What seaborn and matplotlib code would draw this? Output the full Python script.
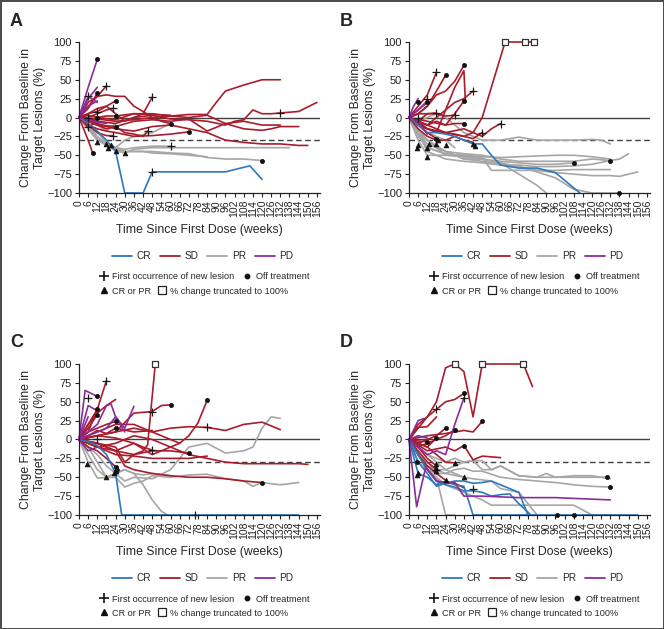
import matplotlib
matplotlib.use("Agg")
import matplotlib.pyplot as plt
from matplotlib.lines import Line2D
import seaborn as sns
import pandas as pd

# colours per best overall response
palette = {"CR": "#2f78bd", "SD": "#a81c2c", "PR": "#a6a6a6", "PD": "#8a2d9c"}
drawOrder = ["PR", "SD", "CR", "PD"]

# ---------------- panel A ----------------
A_CR = [([0, 6, 12, 18, 24, 30, 42, 48, 96, 112, 120], [0, -8, -18, -30, -45, -100, -100, -72, -72, -64, -82])]
A_SD = [
    ([0, 6, 12, 18, 24, 30, 36, 42, 48, 54, 60], [0, 20, 28, 30, 28, 28, 15, 8, 0, -5, -8]),
    ([0, 6, 12, 18, 24, 30, 36, 42, 48], [0, 5, 8, 15, 5, -5, 0, 5, 27]),
    ([0, 6, 12, 18], [0, 15, 28, 42]),
    ([0, 6, 12], [0, 12, 32]),
    ([0, 3, 6, 9], [0, -15, -30, -47]),
    ([0, 6, 12, 18, 24], [0, 5, 12, 15, 22]),
    ([0, 6, 12, 18, 22], [0, 0, 5, 10, 12]),
    ([0, 6, 12, 18, 24, 36, 48, 60, 72, 84, 96, 108, 120, 132], [0, -5, 0, 2, 2, 5, 5, 2, 0, 3, -8, -5, -10, -10]),
    ([0, 12, 24, 36, 48, 60, 66, 72, 84, 90, 96, 108, 120, 132], [0, -2, -5, -3, 0, 2, 3, 4, 4, 20, 35, 43, 50, 50]),
    ([0, 12, 24, 36, 48, 60, 72, 84, 96, 102, 108, 114, 120, 126, 132, 144, 156],
     [0, -5, -8, 0, 3, -2, -3, -5, -10, -5, -3, 10, 5, 5, 6, 8, 20]),
    ([0, 12, 24, 36, 48, 60, 72, 84, 96, 108, 120, 126, 132, 144], [0, -10, -12, -5, -3, -5, -2, -18, -8, -15, -17, -15, -12, -12]),
    ([0, 12, 24, 36, 48, 60, 72, 84, 96, 108, 120, 132, 144, 150], [0, -8, -15, -18, -12, -10, -15, -20, -30, -33, -35, -35, -37, -37]),
    ([0, 6, 12, 18, 24, 36, 48, 60, 72], [0, -10, -15, -18, -20, -25, -24, -22, -19]),
    ([0, 6, 12, 18, 24, 30, 36, 42, 45], [0, -5, -10, -12, -12, -20, -22, -25, -18]),
    ([0, 6, 12, 18, 24], [0, -5, -10, -15, -12]),
    ([0, 6, 12, 18, 22], [0, -10, -20, -24, -24]),
    ([0, 6, 12], [0, -13, -5]),
    ([0, 6, 12, 24, 36, 48, 60], [0, 3, 0, -3, 5, 4, 3]),
]
A_PR = [
    ([0, 6, 12, 18, 24, 30, 36, 48, 60, 72, 84, 96, 108, 120], [0, -15, -30, -35, -40, -45, -45, -45, -47, -48, -53, -55, -55, -57]),
    ([0, 6, 12, 18, 24, 30, 36, 48, 60, 72, 84, 96, 108, 120, 138], [0, -15, -30, -37, -44, -47, -42, -40, -40, -40, -40, -40, -40, -40, -40]),
    ([0, 6, 12, 18, 24, 30, 36, 48, 60], [0, -10, -20, -33, -40, -30, -25, -20, -8]),
    ([0, 6, 12, 18, 24, 30, 36, 48, 60], [0, -10, -25, -35, -40, -42, -40, -38, -38]),
    ([0, 6, 12, 18, 24, 30, 36, 42, 48, 60, 72, 84], [0, -12, -28, -35, -42, -45, -45, -45, -47, -48, -50, -52]),
    ([0, 6, 12, 18, 24], [0, -5, -10, -18, -8]),
]
A_PD = [
    ([0, 6, 12], [0, 40, 77]),
    ([0, 6, 12], [0, 25, 40]),
    ([0, 6, 12], [0, 28, 20]),
    ([0, 6, 12], [0, 15, 22]),
    ([0, 9, 18], [0, -5, -8]),
]
A_newLesion = [(6, 28), (18, 42), (48, 27), (22, 12), (12, 7), (6, -13), (45, -18), (60, -38), (48, -72), (132, 6), (22, -24), (6, 0)]
A_offTreatment = [(12, 77), (12, 32), (24, 22), (24, 2), (9, -47), (24, -12), (60, -8), (72, -19), (120, -57), (12, 0)]
A_crpr = [(12, -33), (18, -35), (19, -40), (21, -36), (24, -44), (30, -47)]
A_truncated = []

# ---------------- panel B ----------------
B_CR = [([0, 6, 12, 18, 24, 30, 36, 42, 48, 54, 60, 72, 84, 96, 112],
         [0, -10, -20, -20, -22, -25, -30, -35, -35, -50, -63, -67, -67, -73, -100])]
B_SD = [
    ([0, 6, 12, 18, 24, 30, 36, 42, 48, 54, 63, 70, 76, 82], [0, -10, -15, -18, -20, -22, -25, -20, 0, 40, 100, 100, 100, 100]),
    ([0, 6, 12, 18], [0, 15, 30, 60]),
    ([0, 6, 12, 18, 24], [0, 5, 15, 35, 56]),
    ([0, 6, 12, 18, 24, 30, 36], [0, 5, 15, 30, 35, 48, 69]),
    ([0, 6, 12, 18, 24, 30, 36, 37], [0, -5, -15, -20, 10, 40, 62, 20]),
    ([0, 6, 12, 18, 24, 30, 36, 42], [0, -5, -10, 0, 10, 20, 25, 35]),
    ([0, 12, 24, 30, 36], [0, -5, -10, 5, 22]),
    ([0, 12, 24, 36, 42, 48, 54, 60], [0, -10, -20, -15, -20, -25, -15, -8]),
    ([0, 6, 12, 18, 24, 30, 36], [0, -5, -10, -5, -10, -8, -8]),
    ([0, 12, 24, 36, 42, 48], [0, -15, -20, -25, -28, -20]),
    ([0, 6, 12, 18, 24, 30], [0, 5, 5, 5, 2, 3]),
    ([0, 6, 12, 18], [0, -10, -20, -28]),
    ([0, 6, 12, 18, 24, 30, 36, 42], [0, -15, -25, -30, -30, -25, -30, -33]),
    ([0, 6, 12, 18], [0, -5, 5, 6]),
    ([0, 6, 12], [0, 10, 20]),
]
B_PR = [
    ([0, 6, 12, 18, 24, 30, 36, 48, 60, 72, 84, 90], [0, -20, -35, -40, -45, -50, -55, -55, -60, -75, -90, -100]),
    ([0, 6, 12, 24, 36, 48, 60, 72, 84, 96, 108, 120, 132, 138, 144], [0, -20, -30, -45, -48, -50, -55, -58, -58, -58, -58, -55, -57, -55, -48]),
    ([0, 12, 24, 36, 48, 54, 60, 72, 84, 96, 108, 120, 132], [0, -40, -48, -50, -53, -70, -70, -70, -70, -70, -69, -69, -69]),
    ([0, 6, 12, 24, 36, 48, 60, 72, 84, 96, 108], [0, -30, -50, -50, -52, -55, -58, -60, -62, -62, -60]),
    ([0, 6, 12, 24, 36, 48, 60, 72, 84, 96, 108, 120, 132], [0, -20, -45, -55, -58, -60, -63, -63, -65, -65, -64, -62, -57]),
    ([0, 6, 12, 18, 24, 36, 48, 60, 72, 84, 96, 108, 120, 126, 132],
     [0, -5, 0, 5, 0, -20, -30, -30, -26, -30, -30, -30, -29, -30, -35]),
    ([0, 6, 12, 24, 36, 48, 60, 72, 84, 96, 108, 120, 132, 138, 144, 150],
     [0, -25, -40, -48, -52, -55, -60, -65, -70, -73, -75, -77, -77, -78, -75, -72]),
    ([0, 12, 24, 36, 48, 60, 72, 84, 96, 108, 120, 132, 138], [0, -30, -45, -55, -58, -62, -65, -72, -80, -95, -100, -100, -100]),
    ([0, 6, 12, 24, 36, 48, 60, 72, 84, 96, 108, 120, 132], [0, -20, -30, -50, -50, -52, -53, -52, -51, -50, -50, -52, -55]),
    ([0, 6, 12, 18, 24, 30], [0, -10, -20, -25, -30, -40]),
]
B_PD = [
    ([0, 3, 6], [0, 15, 25]),
    ([0, 6, 12], [0, 10, 22]),
    ([0, 6, 12], [0, -5, -22]),
]
B_newLesion = [(18, 60), (42, 35), (60, -8), (48, -20), (12, 25), (18, 6), (30, 3), (6, 0)]
B_offTreatment = [(6, 21), (12, 20), (24, 56), (36, 69), (36, 22), (36, -8), (108, -60), (132, -57), (138, -100), (18, -28)]
B_crpr = [(5, -40), (6, -37), (12, -52), (12, -40), (13, -35), (18, -35), (19, -30), (24, -37), (42, -35), (43, -38)]
B_truncated = [(63, 100), (76, 100), (82, 100)]

# ---------------- panel C ----------------
C_CR = [([0, 6, 12, 18, 24, 28, 144], [0, -3, -8, -20, -45, -100, -100])]
C_SD = [
    ([0, 12, 24, 30, 36, 42, 45, 50], [0, -5, -10, -30, -20, -15, -7, 100]),
    ([0, 6, 12, 18], [0, 20, 40, 78]),
    ([0, 12, 24, 36, 48, 60, 66, 72, 78, 84], [0, -10, -15, -5, -20, -10, -5, 5, 22, 52]),
    ([0, 12, 24, 36, 48, 54, 60], [0, 5, 10, 35, 37, 45, 46]),
    ([0, 6, 12, 18, 24], [0, 20, 35, 45, 53]),
    ([0, 12, 24, 36, 48, 60, 72, 84, 96, 108, 120, 132], [0, 5, 10, 15, 10, 15, 17, 16, 12, 20, 23, 13]),
    ([0, 12, 24, 36, 48, 60, 72, 84, 96, 108, 120, 132, 144, 150], [0, -10, -5, 5, 0, -10, -20, -25, -30, -32, -32, -32, -32, -33]),
    ([0, 12, 24, 36, 48, 60, 72], [0, -5, -15, -20, -15, -15, -18]),
    ([0, 12, 24, 36, 48, 60, 72, 84], [0, -10, -20, -22, -25, -25, -25, -22]),
    ([0, 12, 24, 30, 36, 48, 60, 72, 84, 96, 108, 120], [0, -5, -15, -35, -40, -45, -48, -50, -50, -52, -55, -57]),
    ([0, 6, 12, 18, 24], [0, 10, 15, 20, 24]),
    ([0, 6, 12, 18, 24], [0, -10, -15, -25, -36]),
    ([0, 12, 24, 36, 42, 48], [0, 5, 2, -5, -10, -14]),
    ([0, 12, 24, 36, 48, 60, 66], [0, 10, 20, 20, 10, 0, -5]),
    ([0, 6, 12], [0, 10, 40]),
    ([0, 6, 12], [0, 15, 33]),
    ([0, 6, 12, 18, 24, 36, 48], [0, 5, 12, 8, 15, 10, 12]),
]
C_PR = [
    ([0, 6, 12, 18, 24, 30, 36, 48, 60, 72, 84, 96, 108, 114, 120, 126, 132],
     [0, -20, -40, -50, -45, -55, -50, -52, -40, -10, -5, -18, -15, -10, 15, 30, 28]),
    ([0, 6, 12, 18, 24, 30, 36, 42, 48, 54, 58], [0, -10, -30, -50, -45, -40, -45, -60, -80, -95, -100]),
    ([0, 6, 12, 24, 30, 36, 42, 48, 60, 72, 84, 96, 108, 114, 120, 132, 144],
     [0, -30, -51, -50, -63, -58, -55, -48, -50, -47, -46, -52, -55, -62, -57, -60, -57]),
    ([0, 6, 12, 18, 24, 30, 36, 42, 48, 60], [0, -10, -20, -35, -45, -40, -45, -47, -45, -48]),
]
C_PD = [
    ([0, 4, 12], [0, 65, 57]),
    ([0, 6, 12, 18, 21, 24, 30], [0, 10, 20, 45, 47, 30, 10]),
    ([0, 6, 12, 18, 24, 30, 36], [0, 5, 10, 15, 30, 15, 44]),
    ([0, 6, 12], [0, -15, -10]),
    ([0, 6], [0, 30]),
    ([0, 6, 12], [0, 45, 38]),
]
C_newLesion = [(6, 55), (18, 78), (48, 37), (84, 16), (48, -14), (76, -100), (12, 0)]
C_offTreatment = [(12, 57), (12, 40), (12, 33), (24, 24), (24, 15), (60, 46), (84, 52), (72, -18), (120, -57), (24, -36), (24, -42)]
C_crpr = [(5, -33), (18, -50), (23, -44), (24, -42), (25, -38)]
C_truncated = [(50, 100)]

# ---------------- panel D ----------------
D_CR = [
    ([0, 6, 12, 18, 24, 30, 36, 42, 150], [0, -45, -50, -60, -55, -60, -62, -100, -100]),
    ([0, 6, 12, 18, 24, 30, 36, 42, 48, 54, 60, 66, 72, 78], [0, -30, -45, -62, -58, -55, -55, -58, -57, -55, -60, -65, -70, -100]),
    ([0, 6, 12, 18, 24, 30, 36, 42, 48, 54, 60, 66, 72, 80], [0, -20, -40, -55, -60, -63, -68, -68, -70, -75, -73, -72, -85, -100]),
]
D_SD = [
    ([0, 6, 12, 18, 24, 30, 36, 42, 48, 60, 72, 75, 81], [0, 15, 30, 50, 95, 100, 90, 30, 100, 100, 100, 100, 70]),
    ([0, 6, 12, 18, 24, 30, 36], [0, 20, 30, 40, 50, 53, 61]),
    ([0, 12, 24, 36, 42, 48], [0, 5, 8, 12, 10, 24]),
    ([0, 12, 24, 30, 36, 42, 48, 60], [0, -15, -10, -15, -8, -27, -22, -24]),
    ([0, 6, 12, 18, 24, 30, 36], [0, -20, -40, -55, -58, -58, -64]),
    ([0, 6, 12, 18, 24], [0, -5, 0, 5, 15]),
    ([0, 6, 12, 18, 24, 30], [0, -10, -5, 0, 5, 13]),
    ([0, 6, 12, 18], [0, 16, 17, 30]),
    ([0, 6, 12, 18], [0, -5, -10, 2]),
    ([0, 6, 12], [0, -2, -3]),
    ([0, 12, 18, 24, 30], [0, -10, -20, -30, -31]),
    ([0, 6, 12, 18], [0, -15, -30, -40]),
    ([0, 6, 12, 18], [0, -10, -25, -35]),
    ([0, 6, 12, 18, 24], [0, -20, -35, -45, -54]),
]
D_PR = [
    ([0, 6, 12, 18, 24, 30, 36, 42, 48, 60, 72, 84, 96, 108, 120, 132],
     [0, -20, -40, -45, -45, -40, -38, -42, -42, -50, -53, -55, -57, -60, -62, -63]),
    ([0, 12, 24, 30, 36, 42, 48, 54, 60, 72, 84, 90, 96, 108, 120, 130],
     [0, -20, -30, -25, -30, -28, -28, -40, -35, -48, -50, -45, -50, -50, -50, -50]),
    ([0, 12, 24, 36, 42, 48, 54, 60, 72, 84, 96, 108, 120, 132], [0, -20, -40, -30, -28, -40, -40, -35, -48, -50, -50, -48, -48, -52]),
    ([0, 6, 12, 18, 24, 30], [0, -30, -40, -50, -100, -100]),
    ([0, 12, 24, 36, 48, 54, 60, 72, 84, 96, 108, 120, 132], [0, -40, -60, -70, -80, -87, -87, -87, -87, -87, -87, -100, -100]),
    ([0, 12, 24, 36, 42, 54, 60, 72, 84], [0, -35, -45, -50, -52, -55, -65, -70, -100]),
    ([0, 6, 12, 18, 24, 30, 36], [0, -20, -30, -40, -40, -45, -50]),
]
D_PD = [
    ([0, 5, 11, 18, 24, 30, 36, 48, 60, 72, 84, 96, 108, 120, 132], [0, -89, -36, -55, -57, -57, -75, -75, -76, -77, -77, -77, -78, -79, -80]),
    ([0, 6, 12, 18, 24, 30, 36], [0, -10, -20, -15, -20, 20, 55]),
    ([0, 6, 10], [0, 25, 28]),
    ([0, 6, 12], [0, 5, 2]),
]
D_newLesion = [(18, 40), (36, 55), (42, -65), (18, -40)]
D_offTreatment = [(12, -3), (18, 2), (24, 15), (30, 13), (36, 61), (48, 24), (36, -8), (5, -30), (97, -100), (108, -100), (130, -50), (132, -63)]
D_crpr = [(5, -47), (6, -45), (18, -32), (18, -38), (18, -42), (24, -54), (30, -31), (36, -50)]
D_truncated = [(30, 100), (48, 100), (75, 100)]

panels = {
    "A": ({"CR": A_CR, "SD": A_SD, "PR": A_PR, "PD": A_PD}, A_newLesion, A_offTreatment, A_crpr, A_truncated),
    "B": ({"CR": B_CR, "SD": B_SD, "PR": B_PR, "PD": B_PD}, B_newLesion, B_offTreatment, B_crpr, B_truncated),
    "C": ({"CR": C_CR, "SD": C_SD, "PR": C_PR, "PD": C_PD}, C_newLesion, C_offTreatment, C_crpr, C_truncated),
    "D": ({"CR": D_CR, "SD": D_SD, "PR": D_PR, "PD": D_PD}, D_newLesion, D_offTreatment, D_crpr, D_truncated),
}

# axes positions in figure fraction
W, H = 664, 629
axPos = {
    "A": [79 / W, 1 - 193 / H, 241 / W, 151 / H],
    "B": [409 / W, 1 - 193 / H, 241 / W, 151 / H],
    "C": [79 / W, 1 - 515 / H, 241 / W, 151 / H],
    "D": [409 / W, 1 - 515 / H, 241 / W, 151 / H],
}

sns.set_style("ticks")
plt.rcParams["font.family"] = ["Liberation Sans", "DejaVu Sans"]
plt.rcParams["axes.unicode_minus"] = True

fig = plt.figure(figsize=(W / 100, H / 100), dpi=100)
fig.patch.set_edgecolor("#4d4d4d")
fig.patch.set_linewidth(2)

for key, (groups, newLesion, offTreat, crpr, trunc) in panels.items():
    rows = []
    uid = 0
    for resp in drawOrder:
        for weeks, vals in groups[resp]:
            for w, v in zip(weeks, vals):
                rows.append({"week": w, "change": v, "response": resp, "pid": uid})
            uid += 1
    df = pd.DataFrame(rows)

    ax = fig.add_axes(axPos[key])
    ax.axhline(0, color="#404040", lw=1.0, zorder=1)
    ax.axhline(-30, color="#404040", lw=1.0, ls=(0, (4, 2.5)), zorder=1)
    sns.lineplot(data=df, x="week", y="change", hue="response", hue_order=drawOrder,
                 units="pid", estimator=None, sort=False, palette=palette,
                 legend=False, lw=1.2, ax=ax, zorder=2)
    for ln in ax.lines[2:]:
        ln.set_clip_on(False)

    mk = [(newLesion, "+", 30, "#1a1a1a", 0.9), (offTreat, "o", 9, "#111111", 0.5),
          (crpr, "^", 12, "#111111", 0.5)]
    for pts, m, s, c, lw in mk:
        if pts:
            p = pd.DataFrame(pts, columns=["week", "change"])
            sns.scatterplot(data=p, x="week", y="change", marker=m, s=s, color=c,
                            linewidth=lw, edgecolor=c, ax=ax, zorder=4, clip_on=False)
    if trunc:
        p = pd.DataFrame(trunc, columns=["week", "change"])
        sns.scatterplot(data=p, x="week", y="change", marker="s", s=22, facecolor="white",
                        edgecolor="#333333", linewidth=0.9, ax=ax, zorder=5, clip_on=False)

    ax.set_xlim(0, 158)
    ax.set_ylim(-100, 100)
    ax.set_xticks(range(0, 157, 6))
    ax.set_xticklabels([str(t) for t in range(0, 157, 6)], rotation=90, fontsize=7.5)
    ax.set_yticks(range(-100, 101, 25))
    ax.set_yticklabels([str(t).replace("-", "\u2212") for t in range(-100, 101, 25)], fontsize=8)
    ax.tick_params(length=3, width=0.8, pad=2, colors="#222222")
    sns.despine(ax=ax)
    for s in ["left", "bottom"]:
        ax.spines[s].set_linewidth(0.9)
        ax.spines[s].set_color("#222222")
    ax.set_xlabel("Time Since First Dose (weeks)", fontsize=8.8, labelpad=5)
    ax.set_ylabel("Change From Baseline in\nTarget Lesions (%)", fontsize=8.8, labelpad=1,
                  linespacing=1.15)

    pos = axPos[key]
    cx = pos[0] + pos[2] / 2
    x0 = pos[0]
    ybase = pos[1]
    # panel letter
    fig.text(x0 - 69 / W, pos[1] + pos[3] + 21 / H, key, fontsize=13, fontweight="bold",
             va="center", ha="left")

    # response legend
    lh = [Line2D([], [], color=palette[r], lw=1.3) for r in ["CR", "SD", "PR", "PD"]]
    fig.legend(lh, ["CR", "SD", "PR", "PD"], ncol=4, loc="center",
               bbox_to_anchor=(cx + 3 / W, ybase - 63 / H), frameon=False, fontsize=7.2,
               handlelength=2.0, columnspacing=0.9, handletextpad=0.45)
    # marker legends
    m1 = [Line2D([], [], ls="", marker="+", ms=6.5, mew=1.2, color="#111111"),
          Line2D([], [], ls="", marker="o", ms=3.2, color="#111111")]
    fig.legend(m1, ["First occurrence of new lesion", "Off treatment"], ncol=2, loc="center left",
               bbox_to_anchor=(x0 + 14 / W, ybase - 84 / H), frameon=False, fontsize=6.6,
               handlelength=0.9, columnspacing=1.0, handletextpad=0.45, borderpad=0.2)
    m2 = [Line2D([], [], ls="", marker="^", ms=4.2, color="#111111"),
          Line2D([], [], ls="", marker="s", ms=5.5, mfc="white", mec="#222222", mew=0.9)]
    fig.legend(m2, ["CR or PR", "% change truncated to 100%"], ncol=2, loc="center left",
               bbox_to_anchor=(x0 + 14 / W, ybase - 98 / H), frameon=False, fontsize=6.6,
               handlelength=0.9, columnspacing=0.8, handletextpad=0.45, borderpad=0.2)

fig.savefig("out.png", dpi=100, edgecolor=fig.get_edgecolor())
